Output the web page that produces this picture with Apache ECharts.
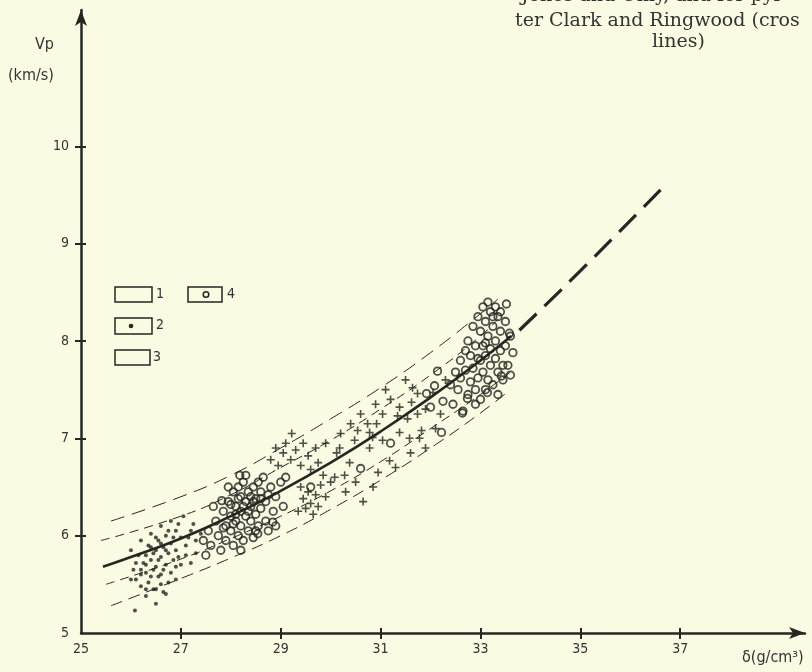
<!DOCTYPE html>
<html>
<head>
<meta charset="utf-8">
<script src="https://cdn.jsdelivr.net/npm/echarts@6/dist/echarts.min.js"></script>
<style>
html,body{margin:0;padding:0;background:#fbfae3;}
#chart{width:812px;height:672px;}
</style>
</head>
<body>
<div id="chart"></div>
<script>
// ---- tick labels ----
const xTickLabels = [25, 27, 29, 31, 33, 35, 37];
const xTicks = [27, 29, 31, 33, 35, 37];
const yTickLabels = [5, 6, 7, 8, 9, 10];
const yTicks = [6, 7, 8, 9, 10];

// ---- group 2: dots ----
const dots = [
[26.0,5.85],[26.1,5.72],[26.1,5.55],[26.2,5.95],[26.2,5.65],[26.2,5.48],[26.3,5.8],[26.3,5.62],[26.3,5.38],[26.35,5.9],
[26.4,6.02],[26.4,5.75],[26.4,5.58],[26.45,5.45],[26.5,5.85],[26.5,5.68],[26.5,5.3],[26.55,5.95],[26.6,6.1],[26.6,5.78],
[26.6,5.6],[26.6,5.5],[26.65,5.88],[26.7,6.0],[26.7,5.7],[26.7,5.4],[26.75,5.82],[26.8,6.15],[26.8,5.92],[26.8,5.62],
[26.85,5.75],[26.9,6.05],[26.9,5.85],[26.9,5.55],[27.0,5.98],[27.0,5.7],[27.05,6.2],[27.1,5.9],[27.1,5.8],[27.2,6.05],
[27.2,5.72],[27.3,5.95],[26.25,5.72],[26.35,5.52],[26.45,5.82],[26.55,5.58],[26.65,5.65],[26.75,5.52],[26.85,5.98],[26.95,5.78],
[27.15,5.98],[26.15,5.8],[26.05,5.65],[26.5,5.98],[26.6,5.92],[26.7,5.85],[26.4,5.88],[26.3,5.7],[26.2,5.6],[26.9,5.68],
[26.55,5.75],[26.45,5.65],[27.25,6.12],[26.0,5.55],[26.75,6.05],[26.65,5.42],[26.5,5.45],[26.3,5.45],[26.08,5.23],[27.4,6.02],
[26.95,6.12],[27.3,5.82]
];

// ---- group 4: circles ----
const circles = [
[27.45,5.95],[27.55,6.05],[27.6,5.9],[27.7,6.15],[27.75,6.0],[27.8,5.85],[27.85,6.25],[27.9,6.1],[27.9,5.95],[27.95,6.35],
[28.0,6.2],[28.0,6.05],[28.05,6.45],[28.05,5.9],[28.1,6.3],[28.1,6.15],[28.15,6.0],[28.2,6.4],[28.2,6.25],[28.2,6.1],
[28.25,6.55],[28.25,5.95],[28.3,6.35],[28.3,6.2],[28.35,6.05],[28.35,6.45],[28.4,6.3],[28.4,6.15],[28.45,6.5],[28.45,5.98],
[28.5,6.38],[28.5,6.22],[28.55,6.1],[28.6,6.45],[28.6,6.28],[28.65,6.6],[28.7,6.35],[28.7,6.15],[28.75,6.05],[28.8,6.5],
[28.85,6.25],[28.9,6.4],[29.0,6.55],[29.05,6.3],[29.1,6.6],[28.15,6.5],[27.95,6.5],[27.65,6.3],[28.0,6.32],[28.3,6.62],
[28.55,6.55],[28.25,6.3],[28.4,6.4],[28.1,6.22],[28.6,6.38],[28.35,6.25],[28.5,6.05],[28.05,6.12],[27.85,6.08],[28.75,6.42],
[28.9,6.1],[28.2,5.85],[27.5,5.8],[28.45,6.35],[28.15,6.38],[28.84,6.14],[28.54,6.02],[28.18,6.62],[27.82,6.36],
[29.6,6.5],[30.6,6.69],[31.2,6.95],[32.22,7.06],[31.92,7.46],[32.08,7.54],[32.14,7.69],[32.0,7.32],[32.25,7.38],[32.64,7.26],
[32.74,7.41],[33.14,7.47],[33.42,7.64],
[32.45,7.35],[32.55,7.5],[32.6,7.62],[32.65,7.28],[32.7,7.7],[32.75,7.45],[32.8,7.58],[32.8,7.85],[32.85,7.72],[32.9,7.95],
[32.9,7.5],[32.95,7.62],[33.0,8.1],[33.0,7.8],[33.0,7.4],[33.05,7.95],[33.05,7.68],[33.1,8.2],[33.1,7.85],[33.15,8.05],
[33.15,7.6],[33.2,8.3],[33.2,7.92],[33.2,7.75],[33.25,8.15],[33.25,7.55],[33.3,8.0],[33.3,7.82],[33.35,8.25],[33.35,7.68],
[33.4,8.1],[33.4,7.9],[33.45,7.6],[33.5,8.2],[33.5,7.95],[33.55,7.75],[33.6,8.05],[33.65,7.88],[33.52,8.38],[33.58,8.08],
[32.95,8.25],[32.85,8.15],[33.05,8.35],[33.15,8.4],[32.75,8.0],[32.7,7.9],[33.3,8.35],[33.45,7.75],[32.6,7.8],[32.5,7.68],
[32.4,7.55],[33.1,7.5],[33.35,7.45],[32.9,7.35],[33.6,7.65],[33.25,8.25],[33.1,7.98],[32.95,7.82],[33.4,8.3]
];

// ---- crosses ----
const crosses = [
[28.8,6.78],[28.9,6.9],[28.95,6.72],[29.05,6.85],[29.1,6.95],[29.22,7.05],[29.2,6.78],[29.3,6.88],[29.4,6.72],[29.45,6.95],
[29.55,6.82],[29.6,6.68],[29.7,6.9],[29.75,6.75],[29.85,6.62],[29.9,6.95],
[29.4,6.5],[29.45,6.38],[29.5,6.28],[29.55,6.45],[29.6,6.33],[29.65,6.22],[29.7,6.42],[29.75,6.3],[29.8,6.52],[29.35,6.25],
[29.9,6.4],[30.0,6.55],
[30.08,6.6],[30.28,6.62],[30.12,6.85],[30.18,6.9],[30.38,6.75],[30.48,6.98],[30.54,7.08],[30.74,7.15],[30.78,7.06],[30.84,7.01],
[30.78,6.9],[30.92,7.15],[30.3,6.45],[30.5,6.55],[30.65,6.35],[30.85,6.5],[30.95,6.65],[31.04,6.98],[31.04,7.25],[31.18,6.77],
[30.4,7.15],[30.6,7.25],[30.2,7.05],
[31.34,7.23],[31.38,7.32],[31.38,7.06],[31.54,7.2],[31.58,7.0],[31.62,7.37],[31.64,7.52],[31.74,7.46],[31.74,7.25],[31.78,7.0],
[31.82,7.08],[31.2,7.4],[31.5,7.6],[31.9,7.3],[32.05,7.47],[32.2,7.25],[32.3,7.6],[31.6,6.85],[31.9,6.9],[31.3,6.7],
[32.1,7.1],[30.9,7.35],[31.1,7.5]
];

// ---- regression curve and bands ----
const meanCurve = [[25.44,5.68],[26,5.78],[27,5.97],[28,6.2],[29,6.46],[30,6.75],[31,7.07],[32,7.42],[33,7.8],[33.62,8.05]];
const meanExtension = [[33.78,8.11],[35,8.72],[36.62,9.56]];
const upperOuter = [[25.6,6.15],[27,6.4],[28,6.62],[29,6.9],[30,7.2],[31,7.52],[32,7.88],[33,8.28],[33.35,8.43]];
const upperInner = [[25.4,5.95],[27,6.2],[28,6.42],[29,6.7],[30,6.98],[31,7.3],[32,7.65],[33,8.05],[33.4,8.25]];
const lowerInner = [[25.5,5.5],[27,5.76],[28,5.97],[29,6.2],[30,6.46],[31,6.76],[32,7.1],[33,7.45],[33.6,7.68]];
const lowerOuter = [[25.6,5.28],[27,5.56],[28,5.77],[29,6.0],[30,6.27],[31,6.57],[32,6.9],[33,7.26],[33.6,7.5]];

const ink = '#262622';
const crossPath = 'path://M3.6,0H5.4V3.6H9V5.4H5.4V9H3.6V5.4H0V3.6H3.6Z';
const labelFont = '"Liberation Sans Narrow","DejaVu Sans Condensed","Liberation Sans",sans-serif';
const serifFont = '"DejaVu Serif",serif';

const chart = echarts.init(document.getElementById('chart'));

function lineSeries(data, width, dash, smooth) {
  return {
    type: 'line', data: data, showSymbol: false, smooth: smooth, silent: true,
    lineStyle: { color: ink, width: width, type: dash },
    z: 3
  };
}

chart.setOption({
  backgroundColor: '#fbfae3',
  animation: false,
  grid: { left: 81, right: 7, top: 10, bottom: 39 },
  xAxis: [{
    type: 'value', min: 25, max: 39.5,
    splitLine: { show: false },
    axisLine: { onZero: false, symbol: ['none', 'arrow'], symbolSize: [9, 16], lineStyle: { color: ink, width: 2.5 } },
    axisTick: { customValues: xTicks, length: 6, lineStyle: { color: ink, width: 2 } },
    axisLabel: { customValues: xTickLabels, color: '#333', fontSize: 14, fontFamily: labelFont, margin: 9 }
  }, {
    type: 'value', min: 25, max: 39.5, position: 'bottom',
    splitLine: { show: false }, axisLine: { show: false },
    axisTick: { customValues: xTicks, inside: true, length: 5, lineStyle: { color: ink, width: 2 } },
    axisLabel: { show: false }
  }],
  yAxis: [{
    type: 'value', min: 5, max: 11.4,
    splitLine: { show: false },
    axisLine: { onZero: false, symbol: ['none', 'arrow'], symbolSize: [9, 16], lineStyle: { color: ink, width: 2.5 } },
    axisTick: { customValues: yTicks, length: 6, lineStyle: { color: ink, width: 2 } },
    axisLabel: { customValues: yTickLabels, color: '#333', fontSize: 14, fontFamily: labelFont, margin: 12 }
  }, {
    type: 'value', min: 5, max: 11.4, position: 'left',
    splitLine: { show: false }, axisLine: { show: false },
    axisTick: { customValues: yTicks, inside: true, length: 5, lineStyle: { color: ink, width: 2 } },
    axisLabel: { show: false }
  }],
  series: [
    lineSeries(upperOuter, 1, [14, 8], true),
    lineSeries(upperInner, 1, [9, 6], true),
    lineSeries(lowerInner, 1, [9, 6], true),
    lineSeries(lowerOuter, 1, [12, 7], true),
    lineSeries(meanCurve, 2.6, 'solid', true),
    lineSeries(meanExtension, 3.2, [24, 11], true),
    {
      type: 'scatter', data: dots, symbol: 'circle', symbolSize: 4,
      itemStyle: { color: ink }, z: 4
    },
    {
      type: 'scatter', data: circles, symbol: 'circle', symbolSize: 7.5,
      itemStyle: { color: 'rgba(250,249,223,0)', borderColor: ink, borderWidth: 1.8 }, z: 4
    },
    {
      type: 'scatter', data: crosses, symbol: crossPath, symbolSize: 8,
      itemStyle: { color: ink }, z: 4
    }
  ],
  graphic: [
    { type: 'text', left: 35, top: 37, style: { text: 'Vp', font: '16px ' + labelFont, fill: '#333' } },
    { type: 'text', left: 8, top: 68, style: { text: '(km/s)', font: '16px ' + labelFont, fill: '#333' } },
    { type: 'text', left: 742, top: 650, style: { text: 'δ(g/cm³)', font: '16px ' + labelFont, fill: '#333' } },
    { type: 'text', left: 521, top: -13, style: { text: 'Jones and Ohly, and for pyr', font: '19px ' + serifFont, fill: '#333' } },
    { type: 'text', left: 515, top: 12, style: { text: 'ter Clark and Ringwood (cros', font: '19px ' + serifFont, fill: '#333' } },
    { type: 'text', left: 652, top: 33, style: { text: 'lines)', font: '19px ' + serifFont, fill: '#333' } },
    // legend boxes
    { type: 'rect', shape: { x: 115, y: 287, width: 37, height: 15 }, style: { fill: 'none', stroke: ink, lineWidth: 1.5 } },
    { type: 'text', left: 156, top: 287, style: { text: '1', font: '14px ' + labelFont, fill: '#333' } },
    { type: 'rect', shape: { x: 188, y: 287, width: 34, height: 15 }, style: { fill: 'none', stroke: ink, lineWidth: 1.5 } },
    { type: 'circle', shape: { cx: 206, cy: 294.5, r: 2.8 }, style: { fill: 'none', stroke: ink, lineWidth: 1.5 } },
    { type: 'text', left: 227, top: 287, style: { text: '4', font: '14px ' + labelFont, fill: '#333' } },
    { type: 'rect', shape: { x: 115, y: 318, width: 37, height: 16 }, style: { fill: 'none', stroke: ink, lineWidth: 1.5 } },
    { type: 'circle', shape: { cx: 131, cy: 326, r: 2.3 }, style: { fill: ink } },
    { type: 'text', left: 156, top: 318, style: { text: '2', font: '14px ' + labelFont, fill: '#333' } },
    { type: 'rect', shape: { x: 115, y: 350, width: 35, height: 15 }, style: { fill: 'none', stroke: ink, lineWidth: 1.5 } },
    { type: 'text', left: 153, top: 350, style: { text: '3', font: '14px ' + labelFont, fill: '#333' } }
  ]
});
</script>
</body>
</html>
